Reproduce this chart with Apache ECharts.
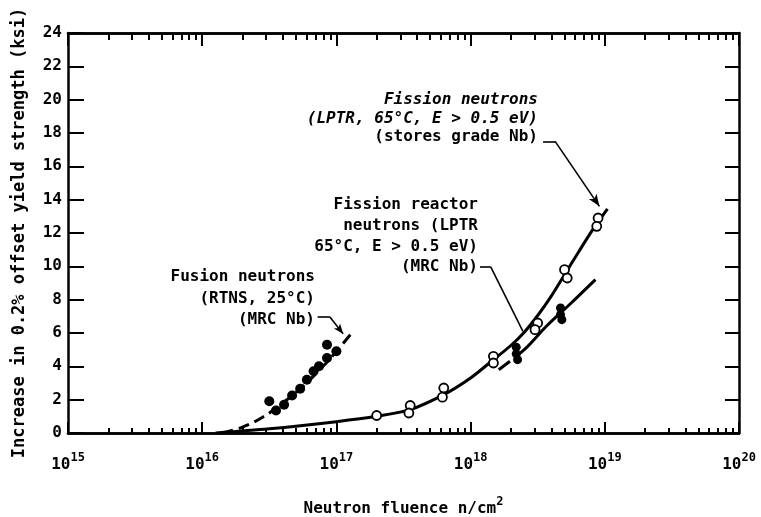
<!DOCTYPE html>
<html>
<head>
<meta charset="utf-8">
<script src="https://cdn.jsdelivr.net/npm/echarts@6/dist/echarts.min.js"></script>
<style>
  html, body { margin: 0; padding: 0; background: #fff; }
  #chart { width: 761px; height: 517px; }
</style>
</head>
<body>
<div id="chart"></div>
<script>
// fluence is kept as log10(n/cm2); the x axis runs on the exponent
var decades = [15, 16, 17, 18, 19, 20];
var minorSteps = [2, 3, 4, 5, 6, 7, 8, 9];

// fusion neutrons (RTNS, 25C), MRC Nb - filled dots
var fusionExp = [16.50, 16.55, 16.61, 16.67, 16.73, 16.78, 16.83, 16.87, 16.93, 16.93, 17.00];
var fusionKsi = [1.9, 1.35, 1.7, 2.25, 2.65, 3.2, 3.7, 4.0, 4.5, 5.3, 4.9];

// fission neutrons (LPTR), stores grade Nb - open circles
var fissionExp = [17.30, 17.55, 17.54, 17.80, 17.79, 18.17, 18.17, 18.50, 18.48, 18.70, 18.72, 18.95, 18.94];
var fissionKsi = [1.05, 1.65, 1.2, 2.7, 2.15, 4.6, 4.2, 6.6, 6.2, 9.8, 9.3, 12.9, 12.4];

// fission reactor neutrons (LPTR), MRC Nb - filled dots
var reactorExp = [18.34, 18.34, 18.35, 18.67, 18.67, 18.68];
var reactorKsi = [5.15, 4.75, 4.4, 7.5, 7.1, 6.8];

// fitted curves
var fusionCurveExp = [16.15, 16.3, 16.45, 16.6, 16.75, 16.9, 17.0, 17.13];
var fusionCurveKsi = [0, 0.35, 0.95, 1.8, 2.8, 4.0, 4.9, 6.15];

var fissionCurveExp = [16.1, 16.5, 17.0, 17.3, 17.55, 17.8, 18.0, 18.17, 18.3, 18.4, 18.5, 18.6, 18.7, 18.8, 18.91, 19.02];
var fissionCurveKsi = [0, 0.25, 0.68, 1.0, 1.4, 2.3, 3.3, 4.4, 5.25, 6.05, 7.05, 8.2, 9.5, 10.8, 12.2, 13.45];

var reactorCurveExp = [18.21, 18.4, 18.57, 18.75, 18.93];
var reactorCurveKsi = [3.8, 5.0, 6.45, 7.8, 9.2];

var F = 'DejaVu Sans Mono';

function pairs(xs, ys) {
    return xs.map(function (x, i) { return [x, ys[i]]; });
}

var minorTicks = [];
decades.slice(0, -1).forEach(function (d) {
    minorSteps.forEach(function (k) { minorTicks.push(d + Math.log10(k)); });
});

var myChart = echarts.init(document.getElementById('chart'));

function xAxisDef(pos, len, custom, labels) {
    var ax = {
        type: 'value', min: 15, max: 20, interval: 1, position: pos,
        axisLine: { show: true, onZero: false, lineStyle: { color: '#000', width: 2.5 } },
        axisTick: { show: true, inside: true, length: len, lineStyle: { color: '#000', width: 2 } },
        axisLabel: { show: false },
        splitLine: { show: false }
    };
    if (custom) ax.axisTick.customValues = custom;
    if (labels) {
        ax.axisLabel = {
            show: true, margin: 19,
            formatter: function (v) { return '{b|10}{s|' + v + '}'; },
            rich: {
                b: { fontFamily: F, fontWeight: 'bold', fontSize: 16, color: '#000', verticalAlign: 'bottom' },
                s: { fontFamily: F, fontWeight: 'bold', fontSize: 12, color: '#000', verticalAlign: 'bottom', padding: [0, 0, 9, 0] }
            }
        };
        ax.name = '{a|Neutron fluence n/cm}{s|2}';
        ax.nameLocation = 'middle';
        ax.nameGap = 63;
        ax.nameTextStyle = {
            rich: {
                a: { fontFamily: F, fontWeight: 'bold', fontSize: 16, color: '#000', verticalAlign: 'bottom' },
                s: { fontFamily: F, fontWeight: 'bold', fontSize: 12, color: '#000', verticalAlign: 'bottom', padding: [0, 0, 9, 0] }
            }
        };
    }
    return ax;
}

// annotation text blocks, right aligned
var notes = [
    { x: 538, y: 100, lines: ['Fission neutrons', '(LPTR, 65°C, E > 0.5 eV)', '(stores grade Nb)'], italic: [true, true, false], gap: 18.5 },
    { x: 478, y: 205, lines: ['Fission reactor', 'neutrons (LPTR', '65°C, E > 0.5 eV)', '(MRC Nb)'], italic: [false, false, false, false], gap: 20.7 },
    { x: 315, y: 277, lines: ['Fusion neutrons', '(RTNS, 25°C)', '(MRC Nb)'], italic: [false, false, false], gap: 21.5 }
];
var graphics = [];
notes.forEach(function (n) {
    n.lines.forEach(function (t, i) {
        graphics.push({
            type: 'text', x: n.x, y: n.y + i * n.gap,
            style: {
                text: t, fill: '#000',
                font: (n.italic[i] ? 'italic ' : '') + 'bold 16px "' + F + '"',
                align: 'right', verticalAlign: 'middle',
                textAlign: 'right', textVerticalAlign: 'middle'
            }
        });
    });
});

var leader = { color: '#000', width: 1.6, type: 'solid' };

var option = {
    animation: false,
    backgroundColor: '#fff',
    grid: { left: 68, right: 22, top: 33, bottom: 84, containLabel: false, outerBoundsMode: 'none' },
    xAxis: [
        xAxisDef('bottom', 11, null, true),
        xAxisDef('bottom', 5, minorTicks, false),
        xAxisDef('top', 13, null, false),
        xAxisDef('top', 7, minorTicks, false)
    ],
    yAxis: [
        {
            type: 'value', min: 0, max: 24, interval: 2, position: 'left',
            name: 'Increase in 0.2% offset yield strength (ksi)',
            nameLocation: 'middle', nameGap: 40, nameRotate: 90,
            nameTextStyle: { fontFamily: F, fontWeight: 'bold', fontSize: 17, color: '#000' },
            axisLine: { show: true, lineStyle: { color: '#000', width: 2.5 } },
            axisTick: { inside: true, length: 16, lineStyle: { color: '#000', width: 2 } },
            axisLabel: { fontFamily: F, fontWeight: 'bold', fontSize: 16, color: '#000', margin: 6 },
            splitLine: { show: false }
        },
        {
            type: 'value', min: 0, max: 24, interval: 2, position: 'right',
            axisLine: { show: true, lineStyle: { color: '#000', width: 2.5 } },
            axisTick: { inside: true, length: 14, lineStyle: { color: '#000', width: 2 } },
            axisLabel: { show: false },
            splitLine: { show: false }
        }
    ],
    graphic: graphics,
    series: [
        {
            type: 'line', smooth: 0.3, symbol: 'none', z: 3,
            data: pairs(fissionCurveExp, fissionCurveKsi),
            lineStyle: { color: '#000', width: 3 },
            markLine: {
                silent: true, symbol: ['none', 'none'], label: { show: false },
                lineStyle: leader,
                data: [
                    [{ coord: [18.54, 17.5] }, { coord: [18.63, 17.5] }],
                    [{ coord: [18.63, 17.5], symbol: 'none' }, { coord: [18.96, 13.6], symbol: 'arrow', symbolSize: [7, 12] }],
                    [{ coord: [18.07, 9.97] }, { coord: [18.15, 9.97] }],
                    [{ coord: [18.15, 9.97] }, { coord: [18.39, 6.1] }],
                    [{ coord: [16.86, 6.97] }, { coord: [16.95, 6.97] }],
                    [{ coord: [16.95, 6.97], symbol: 'none' }, { coord: [17.05, 5.95], symbol: 'arrow', symbolSize: [6, 10] }]
                ]
            }
        },
        {
            type: 'line', smooth: 0.4, symbol: 'none', z: 3,
            data: pairs(fusionCurveExp, fusionCurveKsi),
            lineStyle: { color: '#000', width: 3, type: [11, 6] }
        },
        {
            type: 'line', smooth: 0.3, symbol: 'none', z: 3,
            data: pairs(reactorCurveExp, reactorCurveKsi),
            lineStyle: { color: '#000', width: 3, type: [14, 8, 400] }
        },
        {
            type: 'scatter', symbol: 'circle', symbolSize: 10, z: 5,
            data: pairs(fusionExp, fusionKsi),
            itemStyle: { color: '#000', opacity: 1 }
        },
        {
            type: 'scatter', symbol: 'circle', symbolSize: 9, z: 5,
            data: pairs(fissionExp, fissionKsi),
            itemStyle: { color: '#fff', borderColor: '#000', borderWidth: 1.8, opacity: 1 }
        },
        {
            type: 'scatter', symbol: 'circle', symbolSize: 9, z: 5,
            data: pairs(reactorExp, reactorKsi),
            itemStyle: { color: '#000', opacity: 1 }
        }
    ]
};

myChart.setOption(option);
</script>
</body>
</html>
